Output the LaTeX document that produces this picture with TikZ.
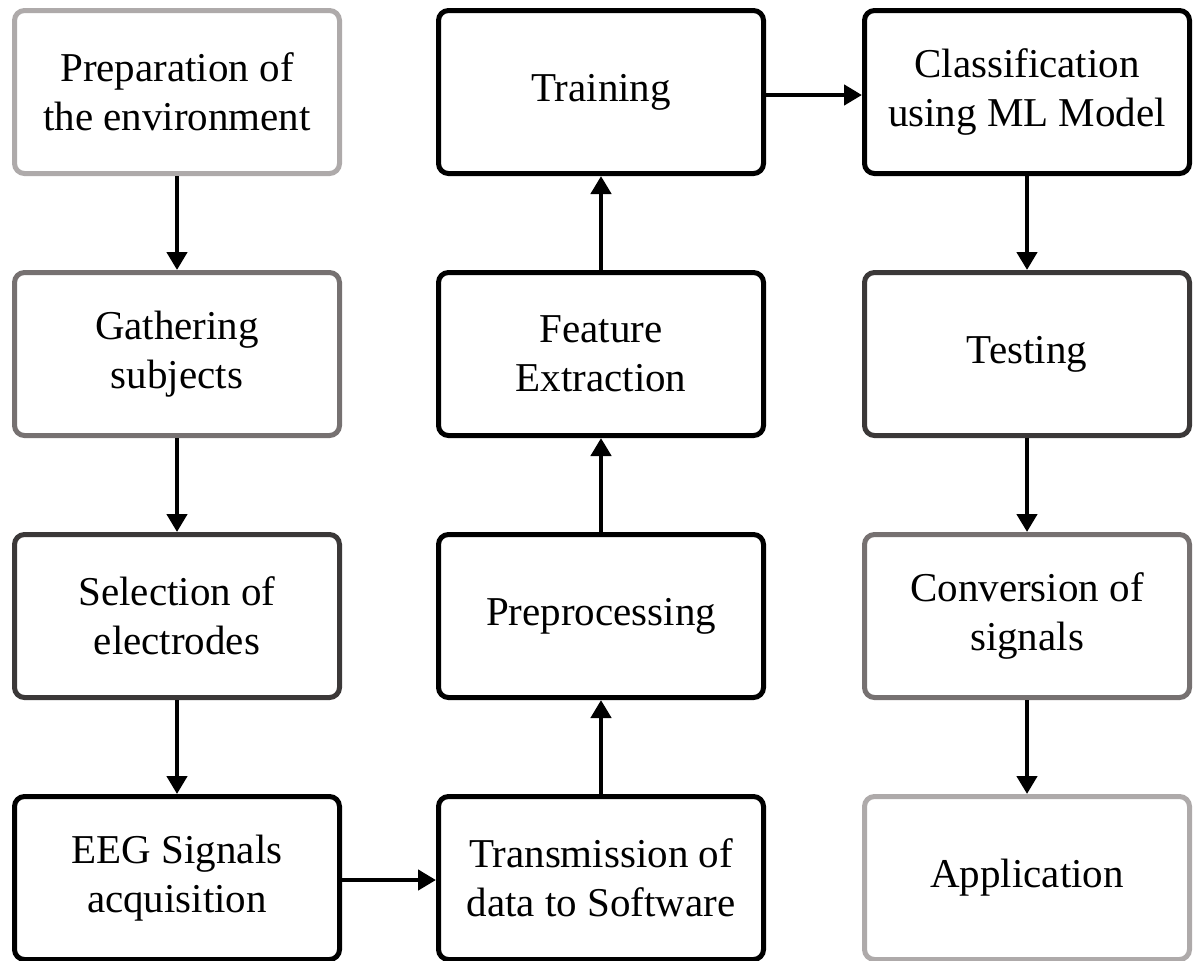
\documentclass[tikz,border=0pt]{standalone}
\usepackage{fontspec}
\setmainfont{Liberation Serif}
\usetikzlibrary{arrows.meta}
\definecolor{gA}{HTML}{AEAAAA}
\definecolor{gB}{HTML}{767171}
\definecolor{gC}{HTML}{3B3838}
\tikzset{
  stepbox/.style={draw=black, line width=2.5pt, rounded corners=5pt, fill=white,
    minimum width=162.5pt, minimum height=81.5pt, align=center, inner sep=0pt,
    font=\fontsize{20.5}{24.5}\selectfont},
  flow/.style={line width=2.2pt, -{Triangle[width=10pt,length=9pt]}}
}
\begin{document}
\begin{tikzpicture}[x=0.5pt,y=-0.5pt]
\useasboundingbox (0,0) rectangle (1194,960);
% column 1
\node[stepbox, draw=gA] (prep) at (177,92)  {Preparation of\\the environment};
\node[stepbox, draw=gB] (gath) at (177,354) {Gathering\\subjects};
\node[stepbox, draw=gC] (sel)  at (177,616) {Selection of\\electrodes};
\node[stepbox]          (eeg)  at (177,878) {EEG Signals\\acquisition};
% column 2
\node[stepbox] (trans) at (601,878) {Transmission of\\data to Software};
\node[stepbox] (pre)   at (601,616) {Preprocessing};
\node[stepbox] (feat)  at (601,354) {Feature\\Extraction};
\node[stepbox] (train) at (601,92)  {Training};
% column 3
\node[stepbox]          (cls)  at (1027,92)  {Classification\\using ML Model};
\node[stepbox, draw=gC] (test) at (1027,354) {Testing};
\node[stepbox, draw=gB] (conv) at (1027,616) {Conversion of\\signals};
\node[stepbox, draw=gA] (app)  at (1027,878) {Application};
% connectors
\draw[flow] (prep) -- (gath);
\draw[flow] (gath) -- (sel);
\draw[flow] (sel) -- (eeg);
\draw[flow] (eeg.east) ++(0,2) coordinate (e1) -- (e1 -| trans.west);
\draw[flow] (trans) -- (pre);
\draw[flow] (pre) -- (feat);
\draw[flow] (feat) -- (train);
\draw[flow] (train.east) ++(0,3) coordinate (t1) -- (t1 -| cls.west);
\draw[flow] (cls) -- (test);
\draw[flow] (test) -- (conv);
\draw[flow] (conv) -- (app);
\end{tikzpicture}
\end{document}
